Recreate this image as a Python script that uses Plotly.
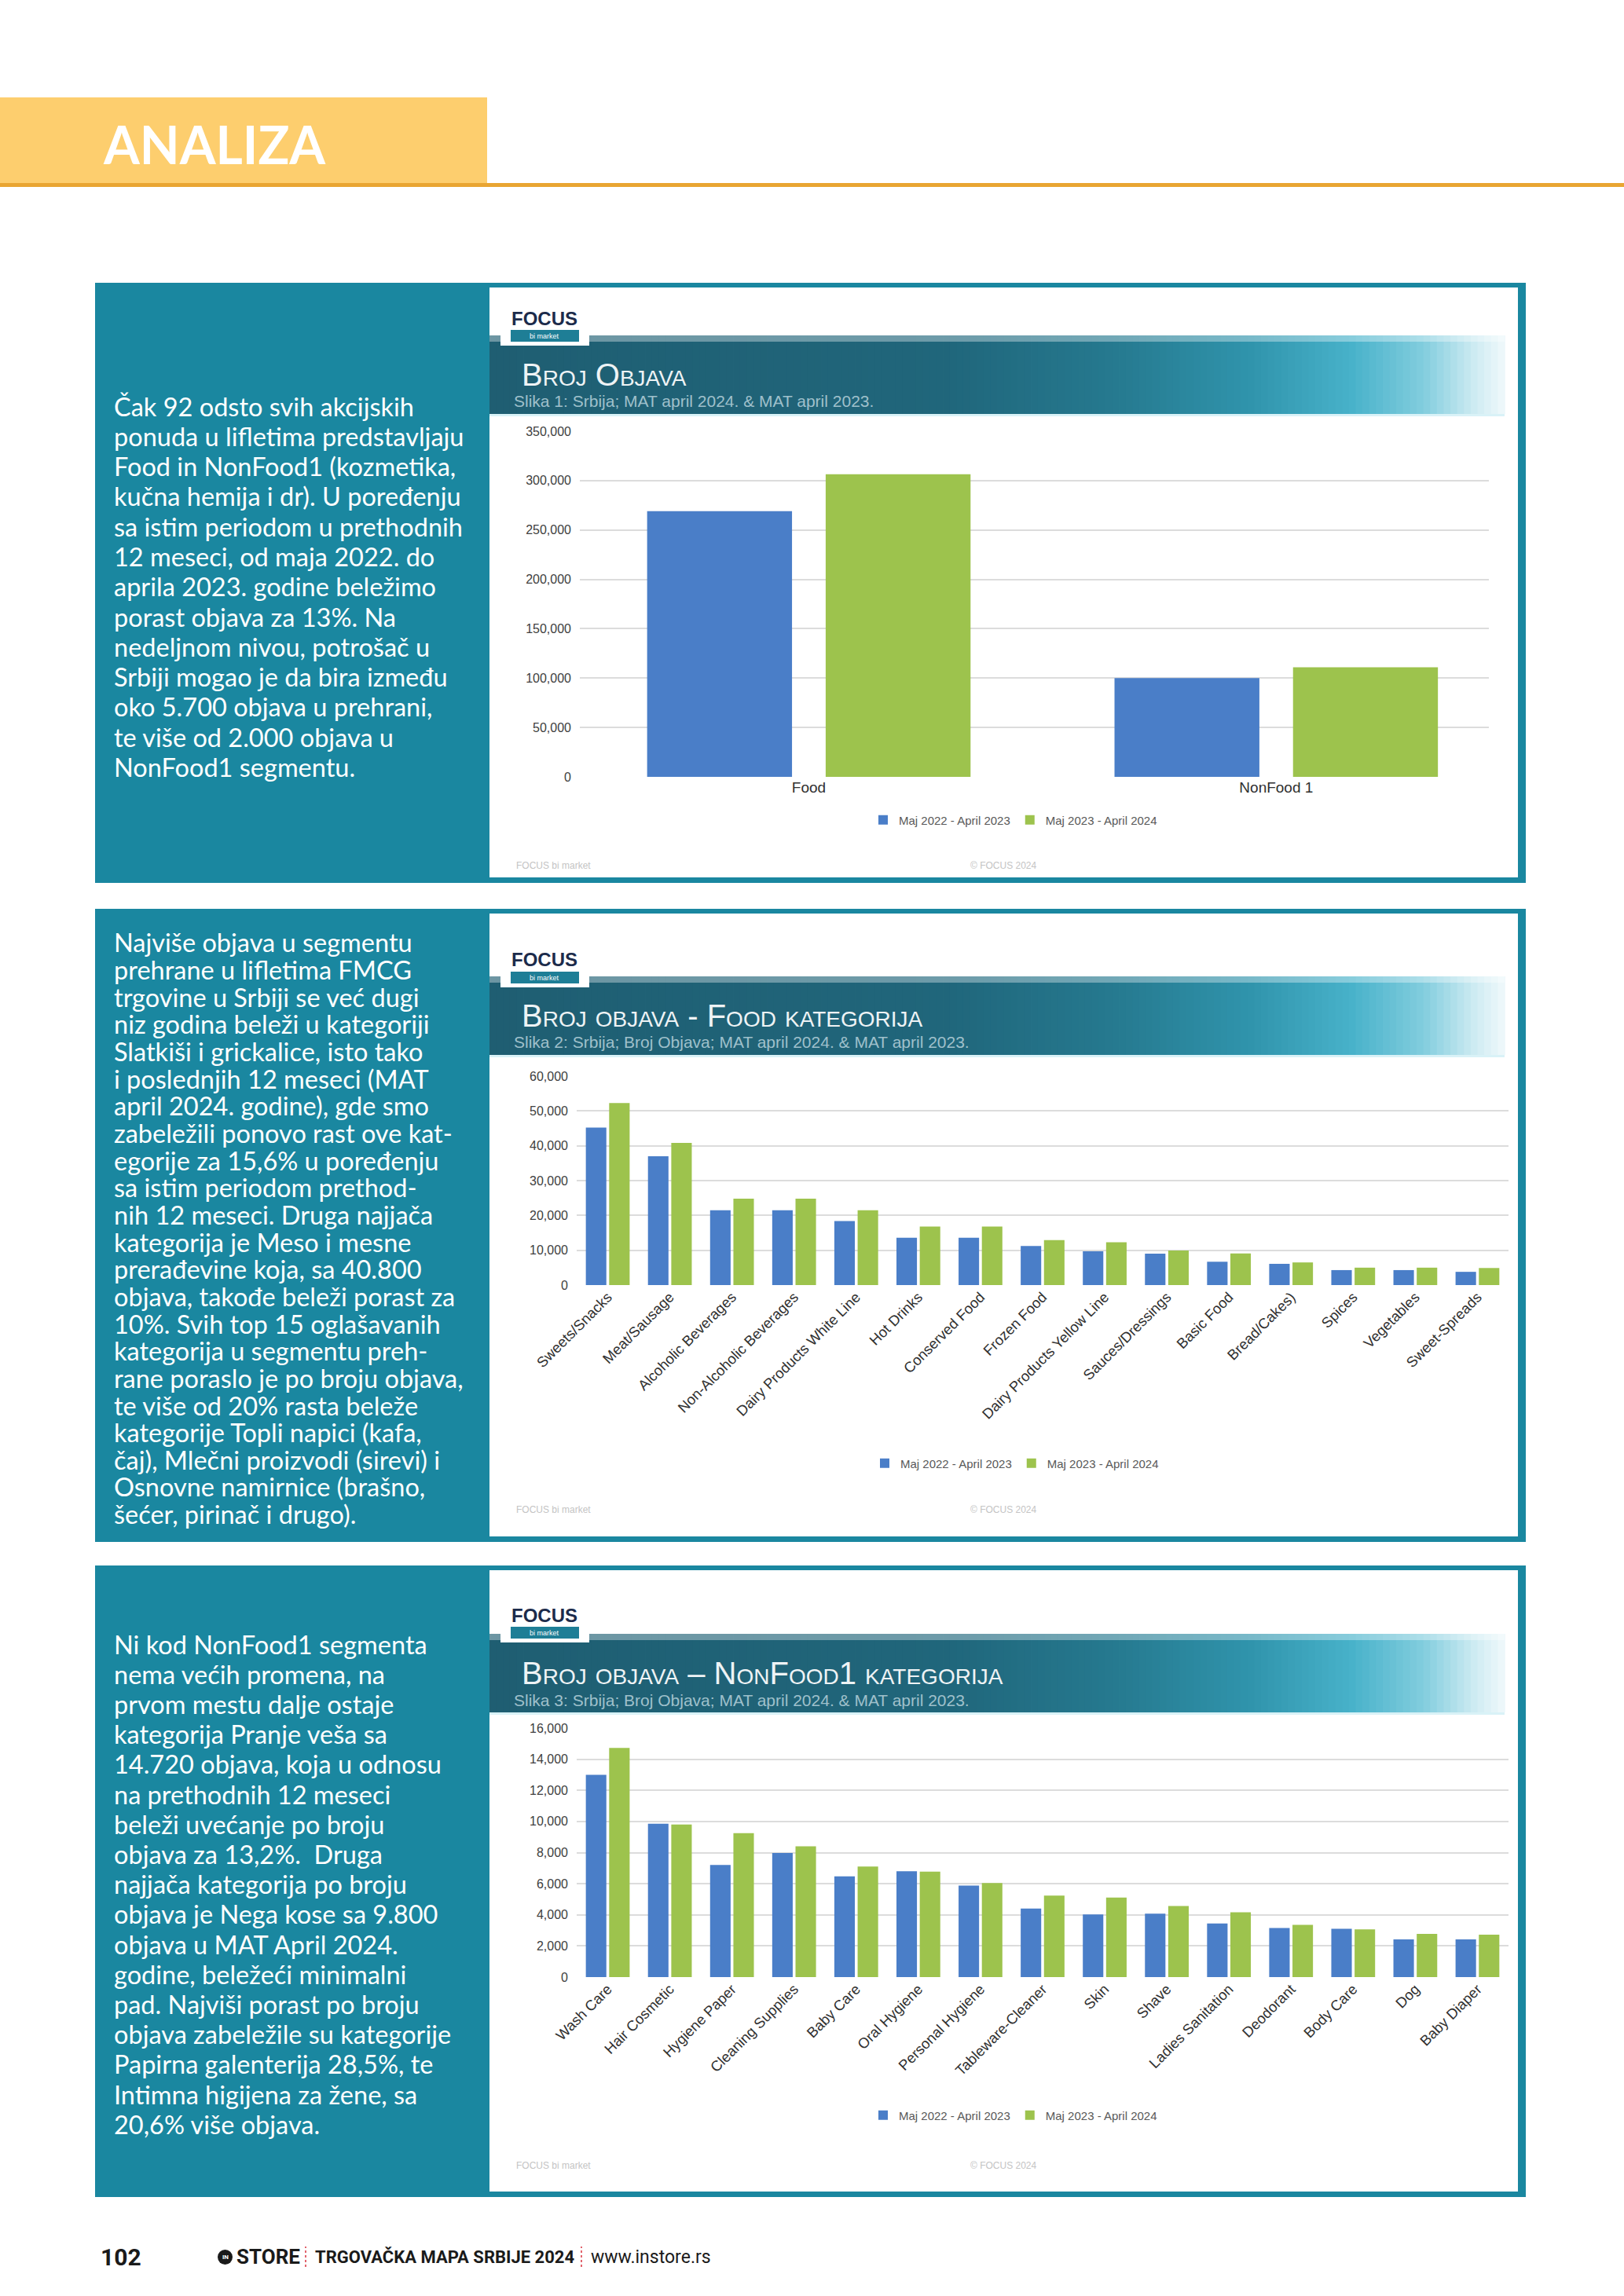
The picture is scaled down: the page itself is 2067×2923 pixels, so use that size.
import plotly.graph_objects as go

W, H = 2067, 2923

# ---------------- data ----------------
CAT_TOTAL = ["Food", "NonFood 1"]
TOTAL_2023 = [269000, 100000]
TOTAL_2024 = [306500, 111000]

CAT_FOOD = ["Sweets/Snacks", "Meat/Sausage", "Alcoholic Beverages", "Non-Alcoholic Beverages",
            "Dairy Products White Line", "Hot Drinks", "Conserved Food", "Frozen Food",
            "Dairy Products Yellow Line", "Sauces/Dressings", "Basic Food", "Bread/Cakes)",
            "Spices", "Vegetables", "Sweet-Spreads"]
FOOD_2023 = [45200, 37000, 21500, 21500, 18400, 13600, 13600, 11200, 9700, 9000, 6700, 6100, 4300, 4300, 3800]
FOOD_2024 = [52250, 40800, 24800, 24800, 21500, 16800, 16800, 12900, 12300, 9900, 9100, 6500, 5000, 5000, 4900]

CAT_NF = ["Wash Care", "Hair Cosmetic", "Hygiene Paper", "Cleaning Supplies", "Baby Care",
          "Oral Hygiene", "Personal Hygiene", "Tableware-Cleaner", "Skin", "Shave",
          "Ladies Sanitation", "Deodorant", "Body Care", "Dog", "Baby Diaper"]
NF_2023 = [13000, 9850, 7200, 7980, 6470, 6800, 5880, 4400, 4030, 4070, 3450, 3160, 3110, 2420, 2420]
NF_2024 = [14720, 9800, 9250, 8400, 7100, 6770, 6050, 5240, 5110, 4570, 4160, 3360, 3060, 2770, 2720]

LEG_PREV = "Maj 2022 - April 2023"
LEG_CURR = "Maj 2023 - April 2024"

TITLES = ["Broj Objava", "Broj objava - Food kategorija", "Broj objava \u2013 NonFood1 kategorija"]
SUBTITLES = ["Slika 1: Srbija; MAT april 2024. & MAT april 2023.",
             "Slika 2: Srbija; Broj Objava; MAT april 2024. & MAT april 2023.",
             "Slika 3: Srbija; Broj Objava; MAT april 2024. & MAT april 2023."]

TEXT1 = ["Čak 92 odsto svih akcijskih",
         "ponuda u lifletima predstavljaju",
         "Food in NonFood1 (kozmetika,",
         "kučna hemija i dr). U poređenju",
         "sa istim periodom u prethodnih",
         "12 meseci, od maja 2022. do",
         "aprila 2023. godine beležimo",
         "porast objava za 13%. Na",
         "nedeljnom nivou, potrošač u",
         "Srbiji mogao je da bira između",
         "oko 5.700 objava u prehrani,",
         "te više od 2.000 objava u",
         "NonFood1 segmentu."]
TEXT2 = ["Najviše objava u segmentu",
         "prehrane u lifletima FMCG",
         "trgovine u Srbiji se već dugi",
         "niz godina beleži u kategoriji",
         "Slatkiši i grickalice, isto tako",
         "i poslednjih 12 meseci (MAT",
         "april 2024. godine), gde smo",
         "zabeležili ponovo rast ove kat-",
         "egorije za 15,6% u poređenju",
         "sa istim periodom prethod-",
         "nih 12 meseci. Druga najjača",
         "kategorija je Meso i mesne",
         "prerađevine koja, sa 40.800",
         "objava, takođe beleži porast za",
         "10%. Svih top 15 oglašavanih",
         "kategorija u segmentu preh-",
         "rane poraslo je po broju objava,",
         "te više od 20% rasta beleže",
         "kategorije Topli napici (kafa,",
         "čaj), Mlečni proizvodi (sirevi) i",
         "Osnovne namirnice (brašno,",
         "šećer, pirinač i drugo)."]
TEXT3 = ["Ni kod NonFood1 segmenta",
         "nema većih promena, na",
         "prvom mestu dalje ostaje",
         "kategorija Pranje veša sa",
         "14.720 objava, koja u odnosu",
         "na prethodnih 12 meseci",
         "beleži uvećanje po broju",
         "objava za 13,2%.  Druga",
         "najjača kategorija po broju",
         "objava je Nega kose sa 9.800",
         "objava u MAT April 2024.",
         "godine, beležeći minimalni",
         "pad. Najviši porast po broju",
         "objava zabeležile su kategorije",
         "Papirna galenterija 28,5%, te",
         "Intimna higijena za žene, sa",
         "20,6% više objava."]

# ---------------- helpers ----------------
def X(p):
    return p / W


def Y(p):
    return 1 - p / H


BLUE = "#4A7EC8"
GREEN = "#9DC34D"
TEAL = "#1A87A0"
CHF = "Liberation Sans, Arial, sans-serif"
TXF = "Lato, Noto Sans, sans-serif"

shapes = []
annotations = []


def rect(x0, y0, x1, y1, color, opacity=1.0):
    shapes.append(dict(type="rect", xref="paper", yref="paper", x0=X(x0), x1=X(x1),
                       y0=Y(y1), y1=Y(y0), fillcolor=color, opacity=opacity,
                       line=dict(width=0), layer="below"))


def text(x, y, s, size, color, family=TXF, xanchor="left", yanchor="middle", weight=None, variant=None):
    f = dict(size=size, color=color, family=family)
    if weight:
        f["weight"] = weight
    if variant:
        f["variant"] = variant
    annotations.append(dict(x=X(x), y=Y(y), xref="paper", yref="paper", text=s, showarrow=False,
                            xanchor=xanchor, yanchor=yanchor, font=f))


def lerp(stops, t):
    for i in range(len(stops) - 1):
        t0, c0 = stops[i]
        t1, c1 = stops[i + 1]
        if t0 <= t <= t1:
            f = (t - t0) / (t1 - t0) if t1 > t0 else 0
            return "rgb(%d,%d,%d)" % tuple(round(c0[k] + (c1[k] - c0[k]) * f) for k in range(3))
    return "rgb(%d,%d,%d)" % stops[-1][1]


BANNER_STOPS = [(0.0, (31, 94, 114)), (0.45, (32, 102, 123)), (0.62, (38, 122, 144)),
                (0.75, (48, 148, 172)), (0.85, (72, 178, 202)), (0.92, (130, 205, 222)),
                (0.97, (205, 235, 242)), (1.0, (240, 249, 251))]

# ---------------- page header ----------------
rect(0, 124, 620, 234, "#FDCE6E")
rect(0, 233, W, 238, "#E9A532")
text(129, 184, "ANALIZA", 66, "white", family=TXF, weight="bold")

# ---------------- panels ----------------
PANELS = [(360, 1124), (1157, 1963), (1993, 2797)]
TEXTS = [TEXT1, TEXT2, TEXT3]
TEXT_START = [517, 1200, 2093]
TEXT_STEP = [38.3, 34.65, 38.2]
BANNER_TOP = [427, 1243, 2080]
LOGO_TOP = [390, 1207, 2041]
CHART_FOOT = [1102, 1922, 2757]

for k, (top, bot) in enumerate(PANELS):
    rect(121, top, 1942, bot, TEAL)
    rect(623, top + 6, 1932, bot - 7, "white")
    # banner gradient
    bt = BANNER_TOP[k]
    n = 150
    x0, x1 = 623, 1915
    step = (x1 - x0) / n
    for i in range(n):
        c = lerp(BANNER_STOPS, (i + 0.5) / n)
        rect(x0 + i * step, bt, x0 + (i + 1) * step + 0.8, bt + 100, c)
    rect(x0, bt, x1, bt + 8, "white", opacity=0.35)
    rect(x0, bt + 100, x1, bt + 103, "#CFEFF5", opacity=0.8)
    # logo
    lt = LOGO_TOP[k]
    rect(637, lt, 750, lt + 50, "white")
    text(693, lt + 15, "<b>FOCUS</b>", 24, "#1C2B4B", family="Liberation Sans", xanchor="center")
    rect(650, lt + 30, 737, lt + 45, "#1E7E96")
    text(693, lt + 38, "bi market", 9, "white", family="Liberation Sans", xanchor="center")
    # title + subtitle
    text(662, bt + 50, TITLES[k], 40, "#EEF3F5", family=CHF, variant="small-caps")
    text(652, bt + 84, SUBTITLES[k], 21, "#9FC0CB", family=CHF)
    # chart footers
    text(655, CHART_FOOT[k], "FOCUS bi market", 12, "#C4C4C4", family=CHF)
    text(1277, CHART_FOOT[k], "\u00a9 FOCUS 2024", 12, "#C4C4C4", family=CHF, xanchor="center")
    # left text
    for j, line in enumerate(TEXTS[k]):
        text(143, TEXT_START[k] + TEXT_STEP[k] * j, line, 32.5, "white", family=TXF)

# ---------------- page footer ----------------
text(126, 2873, "<b>102</b>", 30, "#1A1A1A", family="Roboto")
shapes.append(dict(type="circle", xref="paper", yref="paper", x0=X(277), x1=X(296), y0=Y(2883), y1=Y(2864),
                   fillcolor="#1A1A1A", line=dict(width=0)))
text(286.5, 2873.5, "<b>IN</b>", 8, "white", family="Roboto", xanchor="center")
text(299, 2873, "<b>STORE</b>", 26, "#1A1A1A", family="Roboto")
for sx in (389, 740):
    shapes.append(dict(type="line", xref="paper", yref="paper", x0=X(sx), x1=X(sx), y0=Y(2886), y1=Y(2860),
                       line=dict(color="#D9333F", width=1.5, dash="dot")))
text(399, 2873, "<b>TRGOVAČKA MAPA SRBIJE 2024</b>", 22, "#1A1A1A", family="Roboto")
text(750, 2873, "www.instore.rs", 23, "#1A1A1A", family="Roboto")

# ---------------- charts ----------------
fig = go.Figure()

# chart 1 (wide bars with a visible gap inside the pair)
fig.add_trace(go.Bar(x=CAT_TOTAL, y=TOTAL_2023, name=LEG_PREV, marker=dict(color=BLUE, line=dict(width=0)),
                     width=0.31, offset=-0.346, xaxis="x", yaxis="y", legend="legend"))
fig.add_trace(go.Bar(x=CAT_TOTAL, y=TOTAL_2024, name=LEG_CURR, marker=dict(color=GREEN, line=dict(width=0)),
                     width=0.31, offset=0.036, xaxis="x", yaxis="y", legend="legend"))
# chart 2
fig.add_trace(go.Bar(x=CAT_FOOD, y=FOOD_2023, name=LEG_PREV, marker=dict(color=BLUE, line=dict(width=0)),
                     xaxis="x2", yaxis="y2", legend="legend2"))
fig.add_trace(go.Bar(x=CAT_FOOD, y=FOOD_2024, name=LEG_CURR, marker=dict(color=GREEN, line=dict(width=0)),
                     xaxis="x2", yaxis="y2", legend="legend2"))
# chart 3
fig.add_trace(go.Bar(x=CAT_NF, y=NF_2023, name=LEG_PREV, marker=dict(color=BLUE, line=dict(width=0)),
                     xaxis="x3", yaxis="y3", legend="legend3"))
fig.add_trace(go.Bar(x=CAT_NF, y=NF_2024, name=LEG_CURR, marker=dict(color=GREEN, line=dict(width=0)),
                     xaxis="x3", yaxis="y3", legend="legend3"))

tickfont = dict(family=CHF, size=16, color="#404040")
ycommon = dict(showgrid=True, gridcolor="#DCDCDC", gridwidth=1.5, zeroline=False, showline=False,
               tickformat=",", tickfont=tickfont, ticks="", ticklabelstandoff=10, fixedrange=True)
xcommon = dict(type="category", showgrid=False, showline=False, zeroline=False, ticks="", fixedrange=True)

legcommon = dict(orientation="h", xanchor="center", yanchor="middle", bgcolor="rgba(0,0,0,0)",
                 font=dict(family=CHF, size=15, color="#595959"), itemwidth=30, tracegroupgap=0)

fig.update_layout(
    width=W, height=H, margin=dict(l=0, r=0, t=0, b=0, autoexpand=False),
    paper_bgcolor="white", plot_bgcolor="rgba(0,0,0,0)",
    barmode="group", bargap=0.25, bargroupgap=0.12,
    xaxis=dict(domain=[X(738), X(1895)], anchor="y", range=[-0.49, 1.455],
               tickfont=dict(family=CHF, size=19, color="#303030"), **xcommon),
    yaxis=dict(domain=[Y(989), Y(549)], anchor="x", range=[0, 350000], dtick=50000, **ycommon),
    xaxis2=dict(domain=[X(734), X(1920)], anchor="y2", tickangle=-45, tickfont=dict(family=CHF, size=18.5, color="#303030"), **xcommon),
    yaxis2=dict(domain=[Y(1636), Y(1370)], anchor="x2", range=[0, 60000], dtick=10000, **ycommon),
    xaxis3=dict(domain=[X(734), X(1920)], anchor="y3", tickangle=-45, tickfont=dict(family=CHF, size=18.5, color="#303030"), **xcommon),
    yaxis3=dict(domain=[Y(2517), Y(2200)], anchor="x3", range=[0, 16000], dtick=2000, **ycommon),
    legend=dict(x=X(1291), y=Y(1044), **legcommon),
    legend2=dict(x=X(1293), y=Y(1863), **legcommon),
    legend3=dict(x=X(1291), y=Y(2693), **legcommon),
    shapes=shapes,
    annotations=annotations,
)

fig.write_html("out.html", config={"displayModeBar": False},
               post_script="document.body.style.margin='0px';")
